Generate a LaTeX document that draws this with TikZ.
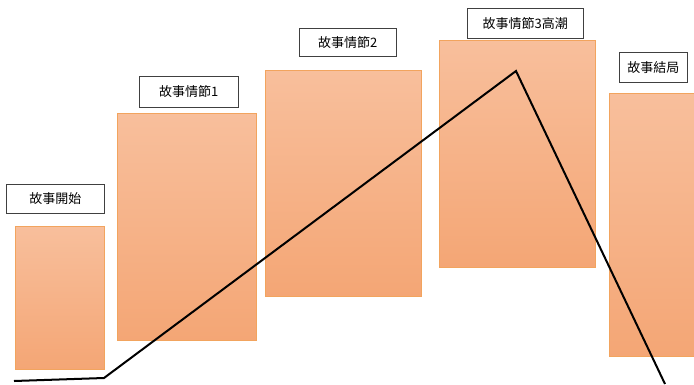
\documentclass[tikz,border=0pt]{standalone}
\usepackage{fontspec}
\setmainfont{Liberation Sans}
\newfontfamily\cjk{Noto Sans CJK TC}
\definecolor{bartop}{HTML}{F8BF9C}
\definecolor{barbot}{HTML}{F4A675}
\definecolor{barline}{HTML}{F2A45E}
\tikzset{
  bar/.style={draw=barline, line width=0.8pt, top color=bartop, bottom color=barbot},
  lbl/.style={draw=black!75, line width=0.6pt, fill=white, font=\cjk\fontsize{13}{15}\selectfont, inner sep=0pt, anchor=north west}
}
\begin{document}
\begin{tikzpicture}[x=1pt,y=-1pt]
\useasboundingbox (0,0) rectangle (694,384);
% bars
\draw[bar] (15,226) rectangle (104,369);
\draw[bar] (117,113) rectangle (256,340);
\draw[bar] (265,70) rectangle (421,296);
\draw[bar] (439,40) rectangle (595,267);
\draw[bar] (609,93) rectangle (700,356);
% labels
\node[lbl, minimum width=98pt, minimum height=29pt] (l1) at (6,184) {故事開始};
\node[lbl, minimum width=99pt, minimum height=31pt] (l2) at (139,76) {故事情節1};
\node[lbl, minimum width=97pt, minimum height=28pt] (l3) at (299,28) {故事情節2};
\node[lbl, minimum width=116pt, minimum height=30pt] (l4) at (467,8) {故事情節3高潮};
\node[lbl, minimum width=68pt, minimum height=30pt] (l5) at (619,52) {故事結局};
% story line
\coordinate (p0) at (14,381);
\coordinate (p1) at (104,378);
\coordinate (p2) at (516,71);
\coordinate (p3) at (665,384);
\draw[black, line width=2pt] (p0) -- (p1) -- (p2) -- (p3);
\end{tikzpicture}
\end{document}
